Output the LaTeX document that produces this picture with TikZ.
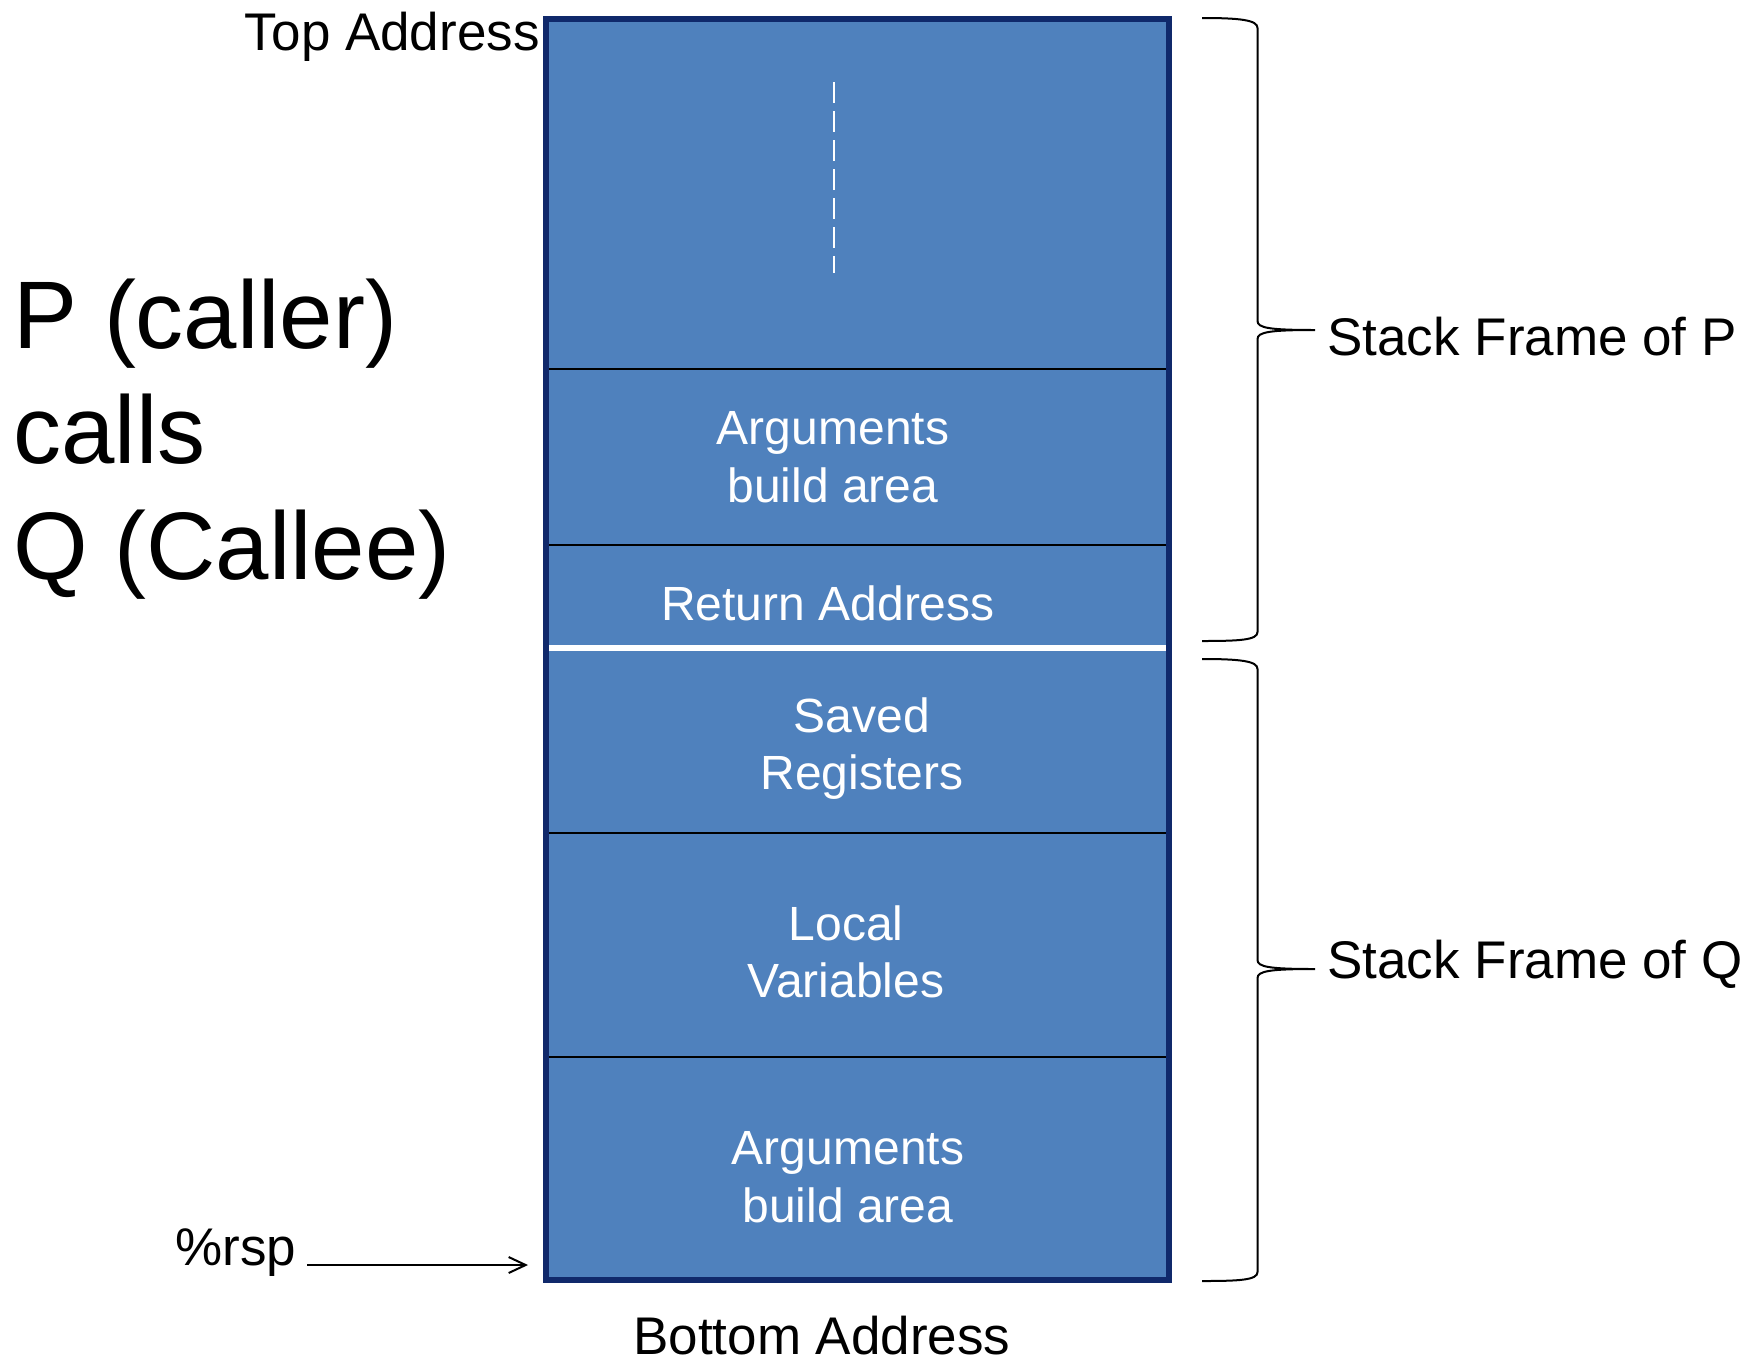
\documentclass[tikz,border=0pt]{standalone}
\usepackage{fontspec}
\setmainfont{Liberation Sans}
\usetikzlibrary{arrows.meta}
\definecolor{cellblue}{HTML}{4F81BD}
\definecolor{frameblue}{HTML}{10296B}
\tikzset{
  label/.style={font=\fontsize{26.5}{31}\selectfont, inner sep=0pt},
  celltext/.style={font=\fontsize{24}{29}\selectfont, text=white, inner sep=0pt, anchor=base},
  bigtext/.style={font=\fontsize{48}{57}\selectfont, inner sep=0pt, anchor=base west},
  divider/.style={black, line width=0.75pt},
  bracepath/.style={black, line width=1pt},
}
\begin{document}
\begin{tikzpicture}[x=0.5pt,y=-0.5pt]
\useasboundingbox (0,0) rectangle (1748,1360);

% stack body
\fill[cellblue] (546,19) rectangle (1169,1280);
\draw[divider] (546,369) -- (1169,369);
\draw[divider] (546,545) -- (1169,545);
\draw[divider] (546,833) -- (1169,833);
\draw[divider] (546,1057) -- (1169,1057);
\draw[white, line width=3pt] (547,648) -- (1168,648);
\draw[frameblue, line width=2.6pt] (546,19) rectangle (1169,1280);

% continuation mark in the upper frame
\draw[white, line width=1pt, dash pattern=on 10.5pt off 4pt] (834,82) -- (834,273);

% cell labels
\node[celltext] (argP1) at (833,444) {Arguments};
\node[celltext] (argP2) at (833,502) {build area};
\node[celltext] (ret) at (828,620) {Return Address};
\node[celltext] (sav1) at (862,732) {Saved};
\node[celltext] (sav2) at (862,789) {Registers};
\node[celltext] (loc1) at (846,940) {Local};
\node[celltext] (loc2) at (846,997) {Variables};
\node[celltext] (argQ1) at (848,1164) {Arguments};
\node[celltext] (argQ2) at (848,1222) {build area};

% address labels
\node[label, anchor=base east] (top) at (540,50) {Top Address};
\node[label, anchor=base west] (bottom) at (633,1354) {Bottom Address};
\node[label, anchor=base west] (rsp) at (175,1265) {\%rsp};

% caller / callee caption
\node[bigtext] (cap1) at (13,348) {P (caller)};
\node[bigtext] (cap2) at (13,463) {calls};
\node[bigtext] (cap3) at (13,579) {Q (Callee)};

% stack pointer arrow
\coordinate (rspA) at (307,1265);
\coordinate (rspB) at (528,1265);
\draw[black, line width=1pt, -{Straight Barb[length=8.5pt,width=8pt]}] (rspA) -- (rspB);

% braces for the two frames
\draw[bracepath] (1202,18) .. controls (1240,18) and (1257.5,20) .. (1257.5,28)
  -- (1257.5,321) .. controls (1257.5,328) and (1270,330) .. (1315,330)
  .. controls (1270,330) and (1257.5,332) .. (1257.5,339)
  -- (1257.5,632) .. controls (1257.5,640) and (1240,641) .. (1202,641);
\draw[bracepath] (1202,659) .. controls (1240,659) and (1257.5,661) .. (1257.5,669)
  -- (1257.5,960) .. controls (1257.5,967) and (1270,969) .. (1315,969)
  .. controls (1270,969) and (1257.5,971) .. (1257.5,978)
  -- (1257.5,1272) .. controls (1257.5,1280) and (1240,1281) .. (1202,1281);

\node[label, anchor=base west] (frameP) at (1327,355) {Stack Frame of P};
\node[label, anchor=base west] (frameQ) at (1327,978) {Stack Frame of Q};
\end{tikzpicture}
\end{document}
